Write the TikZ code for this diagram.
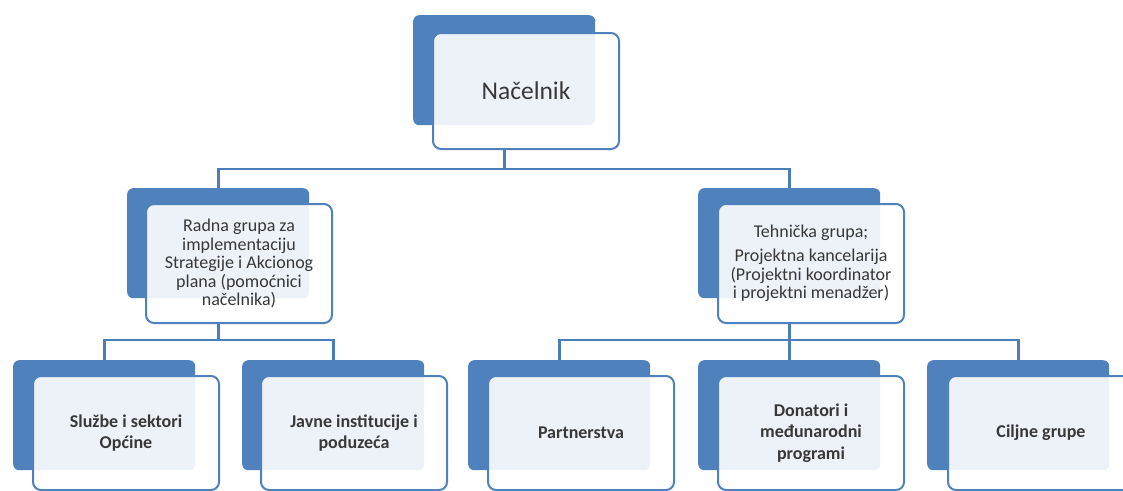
\documentclass[tikz,border=0pt]{standalone}
\usepackage{fontspec}
\setmainfont{Carlito}
\usetikzlibrary{calc}
\definecolor{accent}{HTML}{4F81BD}
\definecolor{linec}{HTML}{4A7EBB}
\definecolor{txt}{HTML}{383838}
\tikzset{
  backbox/.style={draw=none, fill=accent, rounded corners=6pt, minimum width=182pt, minimum height=110pt, anchor=north west, inner sep=0pt},
  frontbox/.style={draw=accent, line width=2pt, fill=white, fill opacity=0.9, text opacity=1, rounded corners=8pt, minimum width=186pt, minimum height=116pt, anchor=north west, inner sep=2pt, align=center, text=txt},
  topfont/.style={font=\fontsize{25.5}{30}\selectfont},
  midfont/.style={font=\fontsize{18}{18.5}\selectfont},
  lowfont/.style={font=\bfseries\fontsize{18}{21.5}\selectfont},
  conn/.style={draw=linec, line width=2.6pt}
}
\begin{document}
\begin{tikzpicture}[x=1pt,y=-1pt]
\useasboundingbox (0,0) rectangle (1123,490);
\clip (0,0) rectangle (1123,490);
% level 1
\node[backbox] (nB) at (413,15) {};
\node[frontbox, topfont] (nF) at (432,32) {Načelnik};
% level 2
\node[backbox] (rB) at (127,188) {};
\node[frontbox, midfont, minimum height=119pt] (rF) at (145,203) {Radna grupa za\\implementaciju\\Strategije i Akcionog\\plana (pomoćnici\\načelnika)};
\node[backbox] (tB) at (698,188) {};
\node[frontbox, midfont, minimum height=119pt] (tF) at (717,203) {Tehnička grupa;\\[6pt]Projektna kancelarija\\(Projektni koordinator\\i projektni menadžer)};
% level 3
\node[backbox] (sB) at (13,360) {};
\node[frontbox, lowfont, minimum height=114pt] (sF) at (32,375) {Službe i sektori\\Općine};
\node[backbox] (jB) at (242,360) {};
\node[frontbox, lowfont, minimum height=114pt] (jF) at (260,375) {Javne institucije i\\poduzeća};
\node[backbox] (pB) at (468,360) {};
\node[frontbox, lowfont, minimum height=114pt] (pF) at (487,375) {Partnerstva};
\node[backbox] (dB) at (698,360) {};
\node[frontbox, lowfont, minimum height=114pt] (dF) at (717,375) {Donatori i\\međunarodni\\programi};
\node[backbox] (cB) at (927,360) {};
\node[frontbox, lowfont, minimum height=114pt] (cF) at (947,375) {Ciljne grupe};
% connectors
\coordinate (j1) at ($(nB.center |- nF.south)+(0,19)$);
\draw[conn] (nB.center |- nF.south) -- (j1) -| (rB.north);
\draw[conn] (j1) -| (tB.north);
\coordinate (j2) at ($(rB.center |- rF.south)+(0,16)$);
\draw[conn] (rB.center |- rF.south) -- (j2) -| (sB.north);
\draw[conn] (j2) -| (jB.north);
\coordinate (j3) at ($(tB.center |- tF.south)+(0,16)$);
\draw[conn] (tB.center |- tF.south) -- (j3) -| (pB.north);
\draw[conn] (j3) -| (dB.north);
\draw[conn] (j3) -| (cB.north);
\end{tikzpicture}
\end{document}
